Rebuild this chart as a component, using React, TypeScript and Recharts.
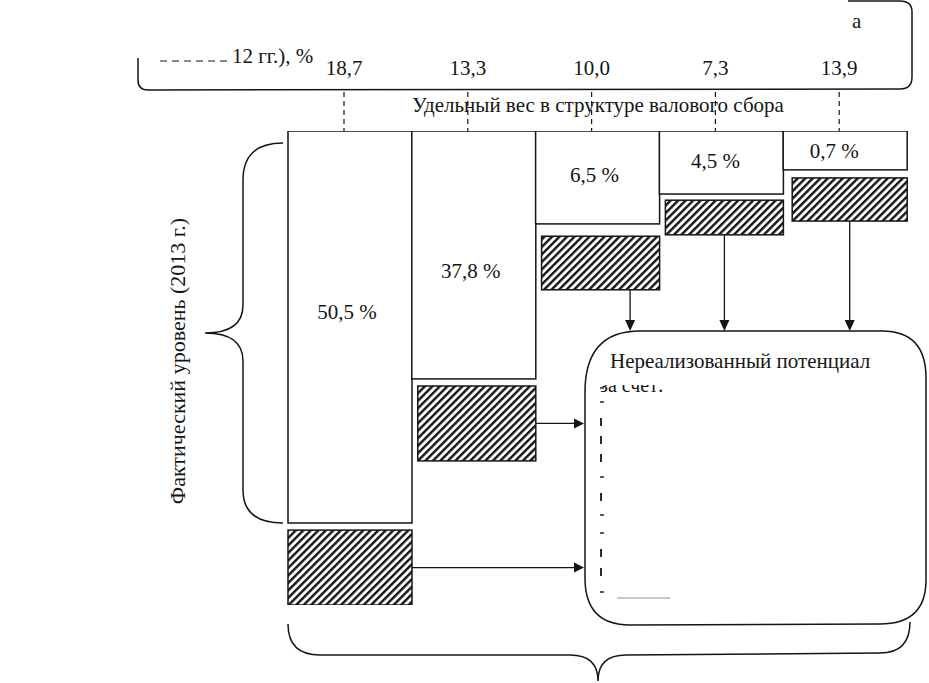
import React from 'react';
import { BarChart, Bar, XAxis, YAxis, LabelList, Customized } from 'recharts';

// Columns of the scheme (crop groups, unnamed in the picture)
const columnIds = ['k1', 'k2', 'k3', 'k4', 'k5'];
// Share in sown area (average of earlier years), %
const sownShare = [18.7, 13.3, 10.0, 7.3, 13.9];
// Share in gross harvest structure (2013), %
const grossShare = [50.5, 37.8, 6.5, 4.5, 0.7];
// Drawn heights of the scheme blocks (scheme units, 0..100 top to bottom)
const actualHeight = [82.7, 52.3, 19.6, 13.3, 8.2];
const gapHeight = [1.5, 1.5, 2.6, 1.3, 1.7];
const potentialHeight = [15.8, 15.8, 11.3, 7.3, 9.1];

const data = columnIds.map((id, i) => ({
  id,
  sown: sownShare[i],
  gross: grossShare[i],
  actual: actualHeight[i],
  gap: gapHeight[i],
  potential: potentialHeight[i],
}));

const FONT = '"Liberation Serif", "Times New Roman", "DejaVu Serif", serif';
const TXT: React.CSSProperties = { fontFamily: FONT };
const INK = '#151515';
const fmt = (v: number) => v.toFixed(1).replace('.', ',');

const BOX_LEFT = 585;
const BOX_TOP = 331;
const LABEL_DY = [-13, 18, 0, 0, 3];
const LABEL_DX = [0, 0, 0, -3, -8];

const norm = (p: any) => {
  const top = Math.min(p.y, p.y + p.height);
  const h = Math.abs(p.height);
  return { x: p.x, top, h, w: p.width };
};

const WhiteShape = (props: any) => {
  const { x, top, h, w } = norm(props);
  return <rect x={x} y={top} width={w} height={h} fill="#fff" stroke={INK} strokeWidth={1.5} />;
};

const HatchShape = (props: any) => {
  const { index } = props;
  const { x, top, h, w } = norm(props);
  const inset = index === 0 ? 0 : index === 4 ? 9 : 6;
  const rx = x + inset;
  const rw = w - inset;
  let arrow: React.ReactNode = null;
  if (index <= 1) {
    const ay = top + h / 2;
    arrow = (
      <g>
        <line x1={x + w} y1={ay} x2={BOX_LEFT - 9} y2={ay} stroke={INK} strokeWidth={1.3} />
        <path d={`M ${BOX_LEFT - 11} ${ay - 5} L ${BOX_LEFT - 1} ${ay} L ${BOX_LEFT - 11} ${ay + 5} Z`} fill={INK} />
      </g>
    );
  } else {
    const ax = index === 2 ? rx + rw * 0.75 : rx + rw / 2;
    arrow = (
      <g>
        <line x1={ax} y1={top + h} x2={ax} y2={BOX_TOP - 9} stroke={INK} strokeWidth={1.3} />
        <path d={`M ${ax - 5} ${BOX_TOP - 11} L ${ax} ${BOX_TOP} L ${ax + 5} ${BOX_TOP - 11} Z`} fill={INK} />
      </g>
    );
  }
  return (
    <g>
      <rect x={rx} y={top} width={rw} height={h} fill="url(#hatch45)" stroke={INK} strokeWidth={1.5} />
      {arrow}
    </g>
  );
};

const GrossLabel = (props: any) => {
  const { value, index } = props;
  const { x, top, h, w } = norm(props);
  return (
    <text
      x={x + w / 2 - 3 + (LABEL_DX[index] || 0)}
      y={top + h / 2 + 5 + (LABEL_DY[index] || 0)}
      textAnchor="middle"
      style={TXT}
      fontSize={21}
      fill={INK}
    >
      {fmt(value)} %
    </text>
  );
};

const SownLabel = (props: any) => {
  const { value } = props;
  const { x, top, w } = norm(props);
  const cx = x + w / 2 - 6;
  return (
    <g>
      <text x={cx} y={75} textAnchor="middle" style={TXT} fontSize={21} fill={INK}>
        {fmt(value)}
      </text>
      <line x1={cx} y1={92} x2={cx} y2={top} stroke={INK} strokeWidth={1.2} strokeDasharray="5 4" />
    </g>
  );
};

const listMarks = [
  { y: 388, k: 'h' }, { y: 402, k: 'h' }, { y: 422, k: 'v' }, { y: 440, k: 'v' },
  { y: 458, k: 'v' }, { y: 477, k: 'h' }, { y: 497, k: 'v' }, { y: 515, k: 'h' },
  { y: 533, k: 'h' }, { y: 553, k: 'v' }, { y: 572, k: 'v' }, { y: 592, k: 'h' },
];

const Decor = () => (
  <g>
    {/* top rounded frame */}
    <path
      d="M 138 58 L 138 80 Q 138 90 148 90 L 900 89 Q 912 89 912 77 L 912 12 Q 912 1 900 1 L 848 1"
      fill="none"
      stroke={INK}
      strokeWidth={1.5}
    />
    <line x1={160} y1={61} x2={229} y2={61} stroke={INK} strokeWidth={1.2} strokeDasharray="7 5" />
    <text x={232} y={63} style={TXT} fontSize={21} fill={INK}>12 гг.), %</text>
    <text x={852} y={28} style={TXT} fontSize={21} fill={INK}>а</text>
    <text x={598} y={112} textAnchor="middle" style={TXT} fontSize={21} fill={INK}>
      Удельный вес в структуре валового сбора
    </text>
    {/* left brace */}
    <path
      d="M 283 143 Q 243 143 243 180 L 243 305 Q 243 333 205 333 Q 243 333 243 361 L 243 490 Q 243 523 283 523"
      fill="none"
      stroke={INK}
      strokeWidth={1.5}
    />
    <g transform="translate(185 361) rotate(-90)">
      <text x={0} y={0} textAnchor="middle" style={TXT} fontSize={22} fill={INK}>
        Фактический уровень (2013 г.)
      </text>
    </g>
    {/* bottom brace */}
    <path
      d="M 288 624 Q 288 655 320 655 L 570 655 Q 598 655 598 681 Q 598 655 626 655 L 880 653 Q 910 653 910 622"
      fill="none"
      stroke={INK}
      strokeWidth={1.5}
    />
    {/* unrealised potential box */}
    <path
      d="M 640 331 L 882 331 Q 926 331 926 378 L 926 580 Q 926 624 880 624 L 630 625 Q 585 625 585 578 L 585 392 Q 585 331 640 331 Z"
      fill="#fff"
      stroke={INK}
      strokeWidth={1.5}
    />
    <text x={610} y={368} style={TXT} fontSize={21} fill={INK}>Нереализованный потенциал</text>
    <text x={600} y={392} style={TXT} fontSize={20} fill={INK} clipPath="url(#halfclip)">за счет:</text>
    {listMarks.map((m, i) =>
      m.k === 'h' ? (
        <line key={i} x1={600} y1={m.y} x2={604} y2={m.y} stroke={INK} strokeWidth={1.4} />
      ) : (
        <line key={i} x1={601} y1={m.y - 4} x2={601} y2={m.y + 4} stroke={INK} strokeWidth={1.8} />
      )
    )}
    <line x1={617} y1={598} x2={670} y2={598} stroke={INK} strokeWidth={0.8} opacity={0.6} />
  </g>
);

export default function App() {
  return (
    <div style={{ position: 'absolute', left: 0, top: 0, width: 929, height: 683, background: '#fff' }}>
      <svg width={0} height={0} style={{ position: 'absolute' }}>
        <defs>
          <pattern id="hatch45" patternUnits="userSpaceOnUse" width={5.3} height={5.3} patternTransform="rotate(45)">
            <rect x={0} y={0} width={5.3} height={5.3} fill="#fff" />
            <rect x={0} y={0} width={2.4} height={5.3} fill={INK} />
          </pattern>
          <clipPath id="halfclip">
            <rect x={590} y={385} width={130} height={12} />
          </clipPath>
        </defs>
      </svg>
      <BarChart
        width={929}
        height={683}
        data={data}
        margin={{ top: 131, right: 22, bottom: 78, left: 288 }}
        barCategoryGap={0}
        barGap={0}
      >
        <XAxis dataKey="id" hide />
        <YAxis hide reversed domain={[0, 100]} allowDataOverflow />
        <Bar dataKey="actual" stackId="s" isAnimationActive={false} shape={<WhiteShape />}>
          <LabelList dataKey="gross" content={<GrossLabel />} />
          <LabelList dataKey="sown" content={<SownLabel />} />
        </Bar>
        <Bar dataKey="gap" stackId="s" fill="none" isAnimationActive={false} />
        <Bar dataKey="potential" stackId="s" isAnimationActive={false} shape={<HatchShape />} />
        <Customized component={<Decor />} />
      </BarChart>
    </div>
  );
}
